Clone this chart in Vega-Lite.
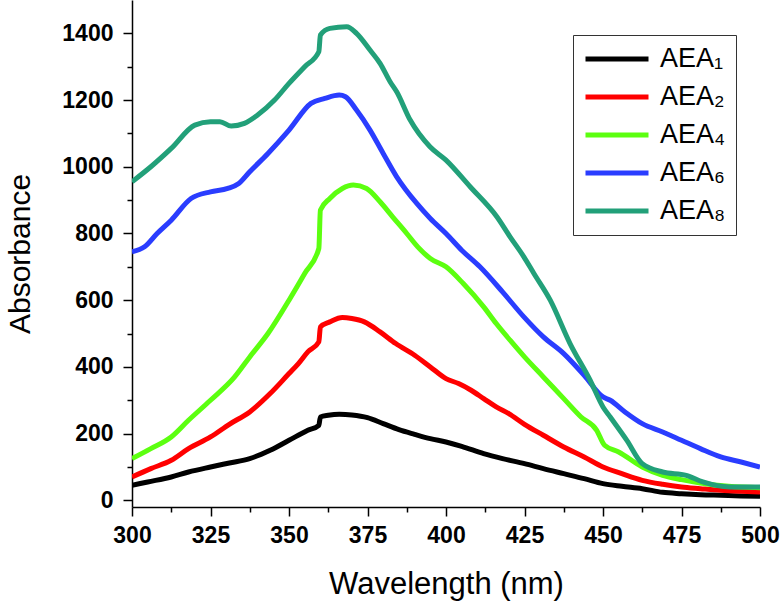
{
  "$schema": "https://vega.github.io/schema/vega-lite/v6.json",
  "width": 628,
  "height": 507,
  "autosize": {"type": "none"},
  "padding": {"left": 132, "top": 0, "right": 20, "bottom": 97},
  "background": "white",
  "config": {
    "view": {"stroke": null},
    "axis": {"domainColor": "black", "tickColor": "black", "labelColor": "black", "titleColor": "black", "domainWidth": 1.5, "tickWidth": 1.5, "grid": false, "labelFont": "Liberation Sans", "titleFont": "Liberation Sans"}
  },
  "data": {"values": [
    {"s":"AEA₁","wl":300,"v":45},{"s":"AEA₁","wl":305,"v":55},{"s":"AEA₁","wl":312.5,"v":70},{"s":"AEA₁","wl":318,"v":85},{"s":"AEA₁","wl":325,"v":100},{"s":"AEA₁","wl":331,"v":112},{"s":"AEA₁","wl":337.5,"v":125},{"s":"AEA₁","wl":344,"v":150},{"s":"AEA₁","wl":350,"v":180},{"s":"AEA₁","wl":356,"v":210},{"s":"AEA₁","wl":359.5,"v":225},{"s":"AEA₁","wl":360,"v":250},{"s":"AEA₁","wl":362.5,"v":255},{"s":"AEA₁","wl":366,"v":258},{"s":"AEA₁","wl":370,"v":256},{"s":"AEA₁","wl":375,"v":248},{"s":"AEA₁","wl":380,"v":230},{"s":"AEA₁","wl":385,"v":212},{"s":"AEA₁","wl":390,"v":198},{"s":"AEA₁","wl":395,"v":185},{"s":"AEA₁","wl":400,"v":175},{"s":"AEA₁","wl":405,"v":162},{"s":"AEA₁","wl":412,"v":140},{"s":"AEA₁","wl":418,"v":125},{"s":"AEA₁","wl":425,"v":110},{"s":"AEA₁","wl":431,"v":95},{"s":"AEA₁","wl":437.5,"v":80},{"s":"AEA₁","wl":444,"v":65},{"s":"AEA₁","wl":450,"v":50},{"s":"AEA₁","wl":456,"v":42},{"s":"AEA₁","wl":462.5,"v":35},{"s":"AEA₁","wl":469,"v":24},{"s":"AEA₁","wl":475,"v":20},{"s":"AEA₁","wl":481,"v":17},{"s":"AEA₁","wl":487.5,"v":15},{"s":"AEA₁","wl":494,"v":13},{"s":"AEA₁","wl":500,"v":12},
    {"s":"AEA₂","wl":300,"v":70},{"s":"AEA₂","wl":306,"v":95},{"s":"AEA₂","wl":312.5,"v":120},{"s":"AEA₂","wl":318,"v":155},{"s":"AEA₂","wl":325,"v":190},{"s":"AEA₂","wl":331,"v":228},{"s":"AEA₂","wl":337.5,"v":265},{"s":"AEA₂","wl":344,"v":320},{"s":"AEA₂","wl":350,"v":380},{"s":"AEA₂","wl":353,"v":410},{"s":"AEA₂","wl":356,"v":445},{"s":"AEA₂","wl":359.5,"v":475},{"s":"AEA₂","wl":360,"v":520},{"s":"AEA₂","wl":363,"v":535},{"s":"AEA₂","wl":367,"v":548},{"s":"AEA₂","wl":370,"v":545},{"s":"AEA₂","wl":374,"v":535},{"s":"AEA₂","wl":379,"v":505},{"s":"AEA₂","wl":384,"v":470},{"s":"AEA₂","wl":390,"v":435},{"s":"AEA₂","wl":395,"v":400},{"s":"AEA₂","wl":400,"v":365},{"s":"AEA₂","wl":404,"v":350},{"s":"AEA₂","wl":408,"v":330},{"s":"AEA₂","wl":412,"v":305},{"s":"AEA₂","wl":416,"v":280},{"s":"AEA₂","wl":420,"v":260},{"s":"AEA₂","wl":425,"v":228},{"s":"AEA₂","wl":431,"v":195},{"s":"AEA₂","wl":437.5,"v":160},{"s":"AEA₂","wl":444,"v":130},{"s":"AEA₂","wl":450,"v":100},{"s":"AEA₂","wl":456,"v":80},{"s":"AEA₂","wl":462.5,"v":60},{"s":"AEA₂","wl":469,"v":48},{"s":"AEA₂","wl":475,"v":40},{"s":"AEA₂","wl":481,"v":35},{"s":"AEA₂","wl":487.5,"v":30},{"s":"AEA₂","wl":494,"v":27},{"s":"AEA₂","wl":500,"v":25},
    {"s":"AEA₄","wl":300,"v":125},{"s":"AEA₄","wl":306,"v":155},{"s":"AEA₄","wl":312.5,"v":190},{"s":"AEA₄","wl":318,"v":240},{"s":"AEA₄","wl":325,"v":300},{"s":"AEA₄","wl":332.7,"v":370},{"s":"AEA₄","wl":337.5,"v":430},{"s":"AEA₄","wl":343.3,"v":500},{"s":"AEA₄","wl":350,"v":600},{"s":"AEA₄","wl":355,"v":680},{"s":"AEA₄","wl":359.5,"v":755},{"s":"AEA₄","wl":360,"v":870},{"s":"AEA₄","wl":363,"v":905},{"s":"AEA₄","wl":367,"v":935},{"s":"AEA₄","wl":370.5,"v":945},{"s":"AEA₄","wl":374.7,"v":935},{"s":"AEA₄","wl":379,"v":895},{"s":"AEA₄","wl":383,"v":850},{"s":"AEA₄","wl":387.5,"v":800},{"s":"AEA₄","wl":391,"v":760},{"s":"AEA₄","wl":395,"v":725},{"s":"AEA₄","wl":400,"v":700},{"s":"AEA₄","wl":405.5,"v":650},{"s":"AEA₄","wl":412,"v":580},{"s":"AEA₄","wl":416,"v":530},{"s":"AEA₄","wl":420.4,"v":480},{"s":"AEA₄","wl":425,"v":430},{"s":"AEA₄","wl":431,"v":370},{"s":"AEA₄","wl":437.5,"v":305},{"s":"AEA₄","wl":443,"v":250},{"s":"AEA₄","wl":448,"v":210},{"s":"AEA₄","wl":450.5,"v":165},{"s":"AEA₄","wl":455,"v":145},{"s":"AEA₄","wl":462.5,"v":100},{"s":"AEA₄","wl":469,"v":75},{"s":"AEA₄","wl":475,"v":62},{"s":"AEA₄","wl":481,"v":52},{"s":"AEA₄","wl":490,"v":42},{"s":"AEA₄","wl":500,"v":38},
    {"s":"AEA₆","wl":300,"v":745},{"s":"AEA₆","wl":304,"v":760},{"s":"AEA₆","wl":308,"v":800},{"s":"AEA₆","wl":312.5,"v":840},{"s":"AEA₆","wl":318.8,"v":905},{"s":"AEA₆","wl":325,"v":925},{"s":"AEA₆","wl":330.5,"v":935},{"s":"AEA₆","wl":334,"v":950},{"s":"AEA₆","wl":337.5,"v":985},{"s":"AEA₆","wl":343.3,"v":1040},{"s":"AEA₆","wl":350,"v":1110},{"s":"AEA₆","wl":357,"v":1190},{"s":"AEA₆","wl":361.4,"v":1205},{"s":"AEA₆","wl":366,"v":1215},{"s":"AEA₆","wl":368,"v":1210},{"s":"AEA₆","wl":371.5,"v":1170},{"s":"AEA₆","wl":375.8,"v":1110},{"s":"AEA₆","wl":380,"v":1040},{"s":"AEA₆","wl":384.3,"v":970},{"s":"AEA₆","wl":390.7,"v":890},{"s":"AEA₆","wl":395,"v":845},{"s":"AEA₆","wl":400,"v":800},{"s":"AEA₆","wl":405,"v":750},{"s":"AEA₆","wl":410.8,"v":700},{"s":"AEA₆","wl":418,"v":625},{"s":"AEA₆","wl":424.8,"v":550},{"s":"AEA₆","wl":431,"v":490},{"s":"AEA₆","wl":437.5,"v":440},{"s":"AEA₆","wl":444,"v":375},{"s":"AEA₆","wl":450,"v":310},{"s":"AEA₆","wl":452.3,"v":300},{"s":"AEA₆","wl":457,"v":265},{"s":"AEA₆","wl":462.5,"v":230},{"s":"AEA₆","wl":469,"v":205},{"s":"AEA₆","wl":475,"v":180},{"s":"AEA₆","wl":481,"v":155},{"s":"AEA₆","wl":487.5,"v":130},{"s":"AEA₆","wl":494,"v":115},{"s":"AEA₆","wl":500,"v":100},
    {"s":"AEA₈","wl":300,"v":955},{"s":"AEA₈","wl":306,"v":1000},{"s":"AEA₈","wl":312.5,"v":1055},{"s":"AEA₈","wl":320,"v":1125},{"s":"AEA₈","wl":325,"v":1135},{"s":"AEA₈","wl":328,"v":1135},{"s":"AEA₈","wl":331.6,"v":1122},{"s":"AEA₈","wl":335.8,"v":1130},{"s":"AEA₈","wl":340,"v":1155},{"s":"AEA₈","wl":345.4,"v":1200},{"s":"AEA₈","wl":350,"v":1250},{"s":"AEA₈","wl":355,"v":1300},{"s":"AEA₈","wl":359.5,"v":1345},{"s":"AEA₈","wl":360,"v":1395},{"s":"AEA₈","wl":363,"v":1415},{"s":"AEA₈","wl":368.4,"v":1420},{"s":"AEA₈","wl":371.5,"v":1400},{"s":"AEA₈","wl":375.8,"v":1350},{"s":"AEA₈","wl":379,"v":1310},{"s":"AEA₈","wl":382.2,"v":1255},{"s":"AEA₈","wl":384.3,"v":1225},{"s":"AEA₈","wl":388.6,"v":1140},{"s":"AEA₈","wl":394.9,"v":1060},{"s":"AEA₈","wl":400,"v":1020},{"s":"AEA₈","wl":407.7,"v":940},{"s":"AEA₈","wl":416.2,"v":850},{"s":"AEA₈","wl":420.4,"v":790},{"s":"AEA₈","wl":424.8,"v":730},{"s":"AEA₈","wl":428,"v":680},{"s":"AEA₈","wl":433.2,"v":600},{"s":"AEA₈","wl":439.5,"v":470},{"s":"AEA₈","wl":445.9,"v":360},{"s":"AEA₈","wl":450,"v":280},{"s":"AEA₈","wl":452.3,"v":250},{"s":"AEA₈","wl":457.6,"v":180},{"s":"AEA₈","wl":462.5,"v":110},{"s":"AEA₈","wl":469,"v":85},{"s":"AEA₈","wl":476.5,"v":75},{"s":"AEA₈","wl":481.8,"v":55},{"s":"AEA₈","wl":490.3,"v":40},{"s":"AEA₈","wl":500,"v":40}
  ]},
  "layer": [
    {
      "mark": {"type": "line", "strokeWidth": 5, "strokeJoin": "round", "interpolate": "monotone", "clip": true},
      "encoding": {
        "x": {"field": "wl", "type": "quantitative", "scale": {"domain": [300, 500], "nice": false, "zero": false},
          "axis": {"orient": "bottom", "values": [300,325,350,375,400,425,450,475,500], "format": "d", "tickSize": 9, "labelFontSize": 23, "labelFontWeight": "bold", "labelPadding": 8, "labelFlush": false, "labelOverlap": false, "title": "Wavelength (nm)", "titleFontSize": 31, "titleFontWeight": "normal", "titlePadding": 22}},
        "y": {"field": "v", "type": "quantitative", "scale": {"domain": [-20, 1500], "nice": false, "zero": false},
          "axis": {"orient": "left", "values": [0,200,400,600,800,1000,1200,1400], "format": "d", "tickSize": 9, "labelFontSize": 23, "labelFontWeight": "bold", "labelPadding": 10, "labelFlush": false, "labelOverlap": false, "title": "Absorbance", "titleFontSize": 30, "titleFontWeight": "normal", "titlePadding": 26}},
        "color": {"field": "s", "type": "nominal",
          "scale": {"domain": ["AEA₁","AEA₂","AEA₄","AEA₆","AEA₈"], "range": ["#000000","#ff0000","#5cff10","#2a3dff","#22a079"]},
          "legend": {"orient": "none", "legendX": 441, "legendY": 35, "title": null, "symbolType": "stroke", "symbolSize": 3969, "symbolStrokeWidth": 5, "clipHeight": 28, "rowPadding": 10, "padding": 10, "labelOffset": 9, "labelFontSize": 27, "labelFont": "Liberation Sans", "labelColor": "black", "strokeColor": "#333333", "fillColor": "white"}}
      }
    },
    {
      "mark": {"type": "line", "strokeOpacity": 0},
      "encoding": {
        "x": {"field": "wl", "type": "quantitative", "axis": {"orient": "bottom", "values": [312.5,337.5,362.5,387.5,412.5,437.5,462.5,487.5], "tickSize": 5, "labels": false, "domain": false, "title": null}},
        "y": {"field": "v", "type": "quantitative", "axis": {"orient": "left", "values": [100,300,500,700,900,1100,1300], "tickSize": 5, "labels": false, "domain": false, "title": null}},
        "detail": {"field": "s"}
      }
    }
  ],
  "resolve": {"axis": {"x": "independent", "y": "independent"}}
}
